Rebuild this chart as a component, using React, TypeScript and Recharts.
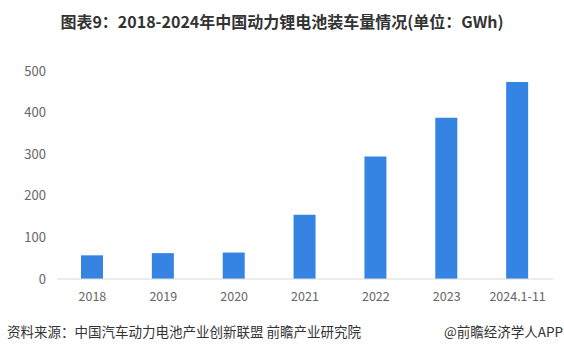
import React from "react";
import { BarChart, Bar, XAxis, YAxis } from "recharts";

const years = ["2018", "2019", "2020", "2021", "2022", "2023", "2024.1-11"];
const installed = [56.9, 62.2, 63.6, 154.5, 294.6, 387.7, 473.5];
const yTicks = [0, 100, 200, 300, 400, 500];

const data = years.map((year, i) => ({ year, value: installed[i] }));

const font = '"Noto Sans CJK SC", "Noto Sans", sans-serif';

export default function App() {
  return (
    <div
      style={{
        position: "absolute",
        left: 0,
        top: 0,
        width: 564,
        height: 354,
        background: "#fff",
        fontFamily: font,
        overflow: "hidden",
      }}
    >
      <div
        style={{
          position: "absolute",
          left: 0,
          width: 564,
          textAlign: "center",
          top: 9,
          fontSize: 16,
          fontWeight: "bold",
          color: "#333",
          whiteSpace: "nowrap",
          lineHeight: "24px",
        }}
      >
        图表9：2018-2024年中国动力锂电池装车量情况(单位：GWh)
      </div>
      <div style={{ position: "absolute", left: 0, top: 0 }}>
        <BarChart
          width={564}
          height={310}
          data={data}
          margin={{ top: 71, right: 11, left: 0, bottom: 0 }}
        >
          <XAxis
            dataKey="year"
            height={31}
            tickLine={false}
            axisLine={{ stroke: "#d9d9d9" }}
            tick={{ fill: "#666", fontSize: 12.5, fontFamily: font }}
            tickMargin={7}
            interval={0}
          />
          <YAxis
            width={57}
            domain={[0, 500]}
            ticks={yTicks}
            axisLine={false}
            tickLine={false}
            tick={{ fill: "#666", fontSize: 13, fontFamily: font }}
            tickMargin={5}
          />
          <Bar dataKey="value" fill="#3584e4" barSize={22} isAnimationActive={false} />
        </BarChart>
      </div>
      <div
        style={{
          position: "absolute",
          left: 7,
          top: 321,
          fontSize: 13.5,
          color: "#333",
          whiteSpace: "nowrap",
          lineHeight: "20px",
        }}
      >
        资料来源：中国汽车动力电池产业创新联盟 前瞻产业研究院
      </div>
      <div
        style={{
          position: "absolute",
          right: 1,
          top: 321,
          fontSize: 13.5,
          color: "#333",
          whiteSpace: "nowrap",
          lineHeight: "20px",
        }}
      >
        @前瞻经济学人APP
      </div>
    </div>
  );
}
